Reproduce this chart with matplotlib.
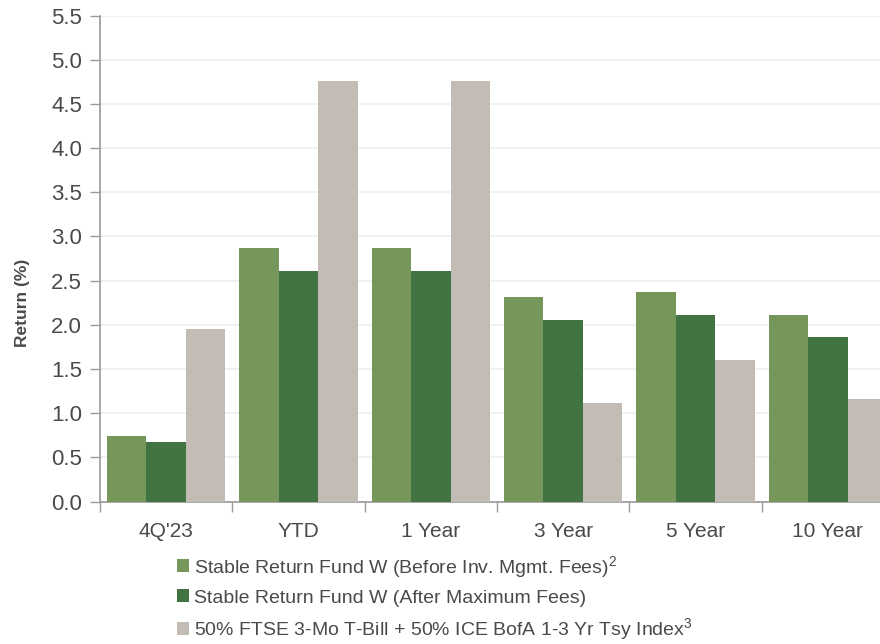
import matplotlib
matplotlib.use("Agg")
import matplotlib.pyplot as plt
import numpy as np

categories = ["4Q'23", "YTD", "1 Year", "3 Year", "5 Year", "10 Year"]
before_fees = [0.74, 2.87, 2.87, 2.31, 2.37, 2.11]
after_fees = [0.67, 2.61, 2.61, 2.05, 2.11, 1.86]
benchmark = [1.95, 4.76, 4.76, 1.11, 1.60, 1.16]
series_labels = [
    "Stable Return Fund W (Before Inv. Mgmt. Fees)$^{2}$",
    "Stable Return Fund W (After Maximum Fees)",
    "50% FTSE 3-Mo T-Bill + 50% ICE BofA 1-3 Yr Tsy Index$^{3}$",
]
yticks = np.arange(0, 5.51, 0.5)

plt.rcParams['font.family'] = ['Liberation Sans', 'DejaVu Sans']
plt.rcParams['mathtext.fontset'] = 'custom'
plt.rcParams['mathtext.rm'] = 'Liberation Sans'
plt.rcParams['mathtext.it'] = 'Liberation Sans'
plt.rcParams['mathtext.bf'] = 'Liberation Sans:bold'

colors = ["#77975A", "#427342", "#C3BCB5"]
text_color = "#4a4a4a"

fig = plt.figure(figsize=(8.8, 6.44), dpi=100)
ax = fig.add_axes([100/880, (644-501.5)/644, 794/880, (501.5-15.5)/644])

x = np.arange(len(categories))
w = 0.298
for i, (vals, c, lab) in enumerate(zip([before_fees, after_fees, benchmark], colors, series_labels)):
    ax.bar(x + (i - 1) * w, vals, width=w, color=c, label=lab, zorder=3)

ax.set_xlim(-0.5, len(categories) - 0.5)
ax.set_ylim(0, 5.5)
ax.set_yticks(yticks)
ax.set_yticklabels([f"{v:.1f}" for v in yticks])
ax.set_xticks(x)
ax.set_xticklabels(categories)
ax.set_xticks(np.arange(-0.5, len(categories), 1), minor=True)
ax.tick_params(axis='x', which='major', length=0, pad=15, labelsize=15, colors=text_color)
ax.tick_params(axis='x', which='minor', length=7, width=1, color="#999999")
ax.tick_params(axis='y', length=7, width=1, color="#999999", labelsize=16, labelcolor=text_color, pad=6)
ax.grid(axis='y', color="#eeeeee", linewidth=1.2, zorder=0)
for s in ['top', 'right']:
    ax.spines[s].set_visible(False)
for s in ['left', 'bottom']:
    ax.spines[s].set_color("#999999")
    ax.spines[s].set_linewidth(1.2)
fig.text(22/880, 1 - 303/644, "Return (%)", rotation=90, ha='center', va='center',
         fontsize=12.5, fontweight='bold', color=text_color)

handles, labels = ax.get_legend_handles_labels()
leg = fig.legend(handles, labels, loc='upper left', bbox_to_anchor=(169/880, 1 - 546/644),
                 frameon=False, fontsize=14, handlelength=0.65, handleheight=0.65,
                 handletextpad=0.25, labelspacing=0.5, borderaxespad=0)
for t in leg.get_texts():
    t.set_color(text_color)

fig.savefig("out.png", dpi=100)
